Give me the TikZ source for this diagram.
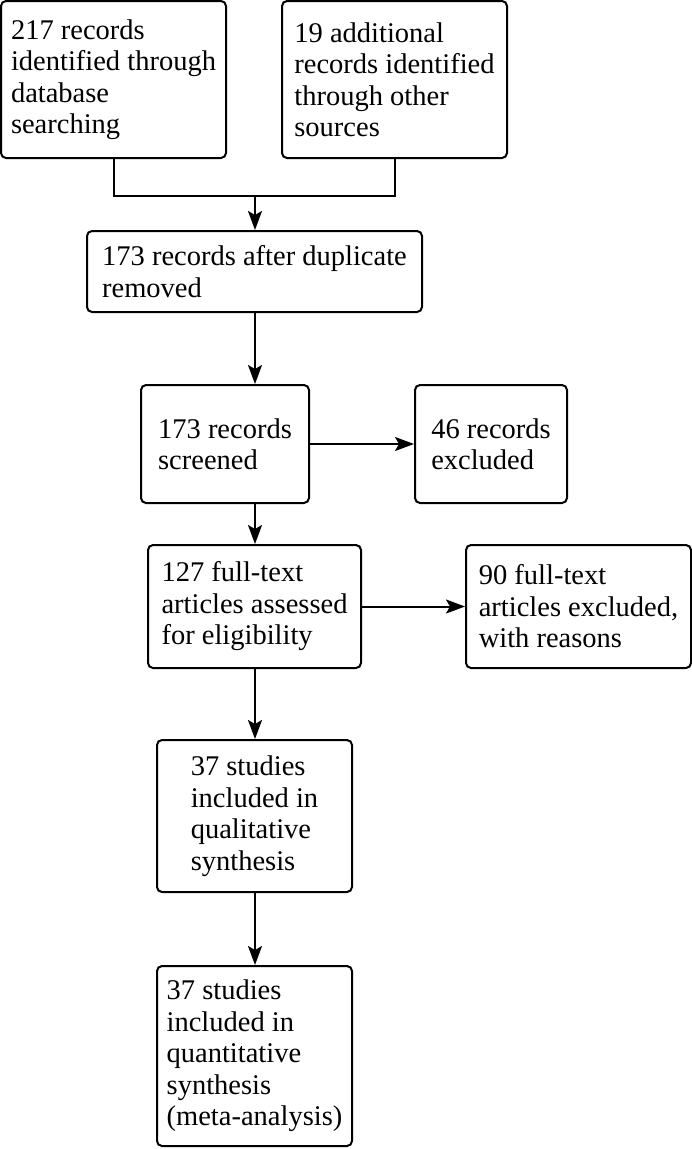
\documentclass[tikz,border=0pt]{standalone}
\usepackage{fontspec}
\setmainfont{Liberation Serif}
\usetikzlibrary{arrows.meta}

\begin{document}
\begin{tikzpicture}[x=1pt,y=-1pt]
	\tikzstyle{rec}=[draw,line width=2pt,rounded corners=5pt,align=left,inner sep=0pt,font=\fontsize{28.5}{31.5}\selectfont];
	\tikzstyle{link}=[line width=2pt];
	\tikzstyle{flow}=[link,-{Stealth[length=19pt,width=14pt,inset=4pt]}];
	\useasboundingbox (0,0) rectangle (692,1149);

	\node[rec,minimum width=225pt,minimum height=157pt] (db)     at (113.5,79.5) {217 records\\identified through\\database\\searching};
	\node[rec,minimum width=225pt,minimum height=157pt] (other)  at (394.5,79.5) {19 additional\\records identified\\through other\\sources};
	\node[rec,minimum width=335pt,minimum height=81pt]  (dup)    at (254.5,271.5) {173 records after duplicate\\removed};
	\node[rec,minimum width=168pt,minimum height=118pt] (screen) at (225,444) {173 records\\screened};
	\node[rec,minimum width=152pt,minimum height=118pt] (excl)   at (491,444) {46 records\\excluded};
	\node[rec,minimum width=213pt,minimum height=123pt] (full)   at (254.5,606.5) {127 full-text\\articles assessed\\for eligibility};
	\node[rec,minimum width=225pt,minimum height=123pt] (fexcl)  at (578.5,606.5) {90 full-text\\articles excluded,\\with reasons};
	\node[rec,minimum width=195pt,minimum height=152pt] (qual)   at (254.5,816) {37 studies\\included in\\qualitative\\synthesis};
	\node[rec,minimum width=195pt,minimum height=180pt] (quant)  at (254.5,1056) {37 studies\\included in\\quantitative\\synthesis\\(meta-analysis)};

	\coordinate (join) at (255,196);
	\draw[link] (db.south) |- (join) -| (other.south);
	\draw[flow] (join) -- (join |- dup.north);
	\draw[flow] (join |- dup.south) -- (join |- screen.north);
	\draw[flow] (screen.east) -- (excl.west);
	\draw[flow] (join |- screen.south) -- (join |- full.north);
	\draw[flow] (full.east) -- (fexcl.west);
	\draw[flow] (join |- full.south) -- (join |- qual.north);
	\draw[flow] (join |- qual.south) -- (join |- quant.north);
\end{tikzpicture}
\end{document}
